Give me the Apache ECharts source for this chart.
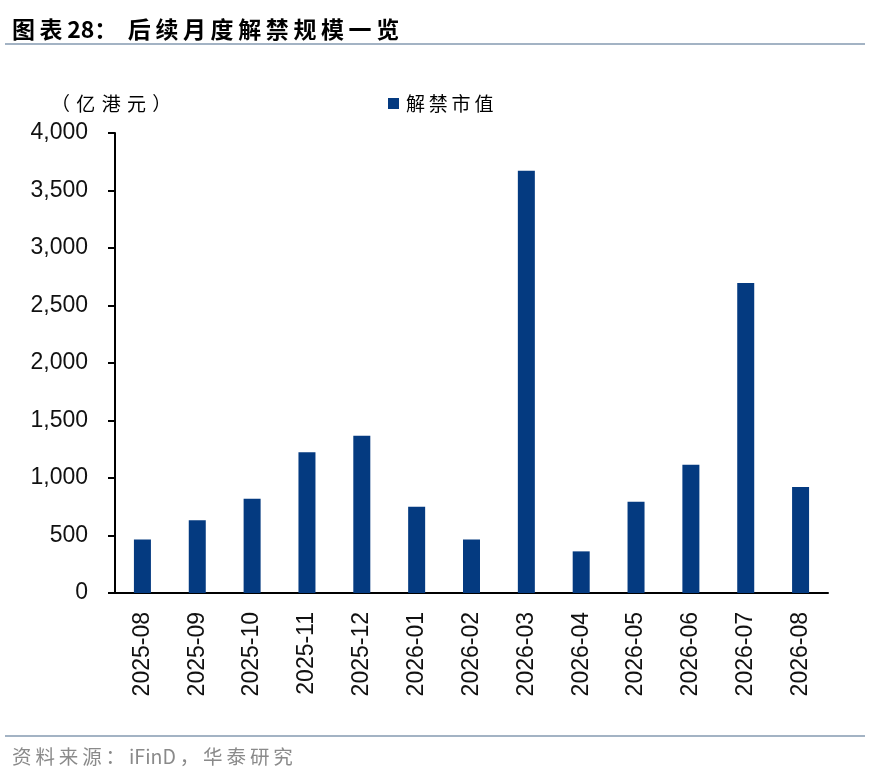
<!DOCTYPE html>
<html>
<head>
<meta charset="utf-8">
<script src="https://cdn.jsdelivr.net/npm/echarts@6/dist/echarts.min.js"></script>
<style>
    html, body { margin: 0; padding: 0; background: #fff; }
    #chart { width: 870px; height: 779px; }
</style>
</head>
<body>
<div id="chart"></div>
<script>
// 月份
const months = ['2025-08', '2025-09', '2025-10', '2025-11', '2025-12', '2026-01', '2026-02',
    '2026-03', '2026-04', '2026-05', '2026-06', '2026-07', '2026-08'];
// 解禁市值（亿港元）
const unlockValues = [466, 632, 820, 1223, 1368, 750, 466, 3672, 362, 794, 1116, 2696, 922];
const seriesName = '解禁市值';

const cjk = '"Noto Sans CJK SC", sans-serif';
const latin = '"Liberation Sans", Arial, sans-serif';

// 原图文字字距较宽，用窄空格撑开
function spread(str, gap) {
    return str.split('').join(gap);
}
const THIN = '\u2009';
const THREE_EM = '\u2004';

const chart = echarts.init(document.getElementById('chart'));

const option = {
    backgroundColor: '#fff',
    animation: false,
    title: [
        {
            text: spread('图表', THIN) + THIN + '28：' + '  ' + spread('后续月度解禁规模一览', THIN),
            left: 7,
            top: 13,
            textStyle: { fontFamily: cjk, fontSize: 23, fontWeight: 'bold', color: '#000' }
        },
        {
            text: spread('（亿港元）', THREE_EM),
            left: 46,
            top: 89,
            textStyle: { fontFamily: cjk, fontSize: 19, fontWeight: 'normal', color: '#000' }
        },
        {
            text: spread('资料来源：', THIN) + THIN + 'iFinD' + THIN + spread('，华泰研究', THIN),
            left: 7,
            top: 742,
            textStyle: { fontFamily: cjk, fontSize: 19.5, fontWeight: 'normal', color: '#8a8a8a' }
        }
    ],
    graphic: [
        { type: 'line', shape: { x1: 5, y1: 44, x2: 865, y2: 44 }, style: { stroke: '#a3b3c4', lineWidth: 2 } },
        { type: 'line', shape: { x1: 5, y1: 736, x2: 865, y2: 736 }, style: { stroke: '#a3b3c4', lineWidth: 2 } }
    ],
    legend: {
        left: 383,
        top: 89,
        itemWidth: 11,
        itemHeight: 11,
        itemGap: 6,
        icon: 'rect',
        textStyle: { fontFamily: cjk, fontSize: 19, color: '#000', padding: [0, 0, 0, 2] },
        formatter: name => spread(name, THIN),
        data: [seriesName]
    },
    grid: {
        left: 115,
        right: 42,
        top: 133,
        bottom: 186
    },
    xAxis: {
        type: 'category',
        data: months,
        axisLine: { lineStyle: { color: '#000', width: 2 } },
        axisTick: { length: 7, lineStyle: { color: '#000', width: 2 } },
        axisLabel: {
            rotate: 90,
            margin: 19,
            interval: 0,
            fontFamily: latin,
            fontSize: 23,
            color: '#111'
        }
    },
    yAxis: {
        type: 'value',
        min: 0,
        max: 4000,
        interval: 500,
        axisLine: { show: true, lineStyle: { color: '#000', width: 2 } },
        axisTick: { show: true, length: 7, lineStyle: { color: '#000', width: 2 } },
        splitLine: { show: false },
        axisLabel: {
            margin: 27,
            fontFamily: latin,
            fontSize: 23,
            color: '#111',
            formatter: v => v.toLocaleString('en-US')
        }
    },
    series: [
        {
            name: seriesName,
            type: 'bar',
            data: unlockValues,
            barWidth: 17,
            itemStyle: { color: '#043a80' }
        }
    ]
};

chart.setOption(option);
</script>
</body>
</html>
